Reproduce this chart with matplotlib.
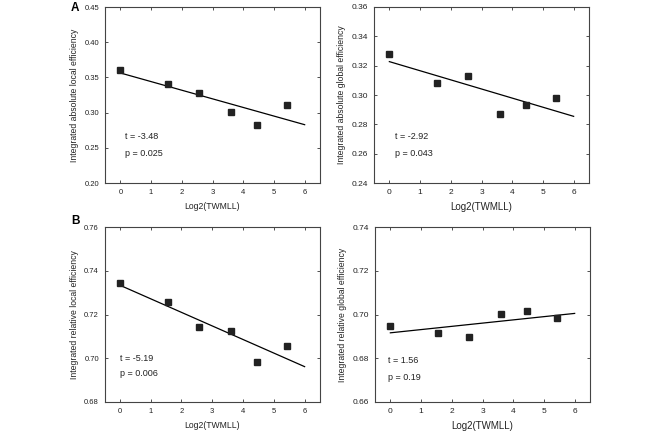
import numpy as np
import matplotlib
matplotlib.use('Agg')
import matplotlib.pyplot as plt

plt.rcParams['font.family'] = ['Liberation Sans', 'DejaVu Sans']

# log2(TWMLL) for the six groups
x = [0, 1.56, 2.56, 3.6, 4.46, 5.44]

abs_local = [0.360, 0.340, 0.328, 0.301, 0.282, 0.311]
abs_global = [0.328, 0.308, 0.313, 0.287, 0.293, 0.298]
rel_local = [0.7345, 0.7257, 0.7144, 0.7124, 0.6982, 0.7058]
rel_global = [0.6948, 0.6914, 0.6896, 0.7003, 0.7014, 0.6983]

ylabels = ['Integrated absolute local efficiency',
           'Integrated absolute global efficiency',
           'Integrated relative local efficiency',
           'Integrated relative global efficiency']
stats = [('t = -3.48', 'p = 0.025'), ('t = -2.92', 'p = 0.043'),
         ('t = -5.19', 'p = 0.006'), ('t = 1.56', 'p = 0.19')]
ylims = [(0.20, 0.45), (0.24, 0.36), (0.68, 0.76), (0.66, 0.74)]
ysteps = [0.05, 0.02, 0.02, 0.02]

fig = plt.figure(figsize=(6.61, 4.32), dpi=100)
W, H = 661, 432
boxes = [(105, 7, 320, 183), (374, 7, 589, 183),
         (104.5, 227, 320, 402), (375, 227, 590, 402)]
# text positions (axes fraction) and font sizes per panel
txt_pos = [(0.093, 0.267, 0.17), (0.098, 0.267, 0.17),
           (0.07, 0.249, 0.163), (0.06, 0.236, 0.141)]
tick_fs = [5.5, 6, 5.5, 6]
xlab_fs = [6.2, 7, 6.2, 7]

for i, y in enumerate([abs_local, abs_global, rel_local, rel_global]):
    l, t, r, b = boxes[i]
    ax = fig.add_axes([l / W, 1 - b / H, (r - l) / W, (b - t) / H])
    ax.plot(x, y, 's', color='#222222', markersize=3.8, zorder=3)
    k, c = np.polyfit(x, y, 1)
    xs = np.array([0, 6])
    ax.plot(xs, k * xs + c, color='black', lw=0.9)

    ax.set_xlim(-0.5, 6.5)
    ax.set_ylim(*ylims[i])
    ax.set_xticks(range(7))
    ax.set_yticks(np.arange(ylims[i][0], ylims[i][1] + 1e-9, ysteps[i]))
    ax.yaxis.set_major_formatter(matplotlib.ticker.FormatStrFormatter('%.2f'))
    ax.tick_params(direction='in', length=2.5, width=0.6, top=True, right=True,
                   labelsize=tick_fs[i], pad=4, colors='#333333', labelcolor='#222222')
    for s in ax.spines.values():
        s.set_color('#444444')
        s.set_linewidth(0.8)
    ax.set_xlabel('Log2(TWMLL)', fontsize=xlab_fs[i], color='#222222', labelpad=4.5)
    ax.set_ylabel(ylabels[i], fontsize=6.2, color='#222222', labelpad=4)

    tx, ty, py = txt_pos[i]
    ax.text(tx, ty, stats[i][0], transform=ax.transAxes, fontsize=6.5,
            color='#222222', va='center')
    ax.text(tx, py, stats[i][1], transform=ax.transAxes, fontsize=6.5,
            color='#222222', va='center')

fig.text(75 / W, 1 - 8 / H, 'A', fontsize=8.5, fontweight='bold', ha='center', va='center')
fig.text(75 / W, 1 - 221 / H, 'B', fontsize=8.5, fontweight='bold', ha='center', va='center')

fig.savefig('out.png', dpi=100)
